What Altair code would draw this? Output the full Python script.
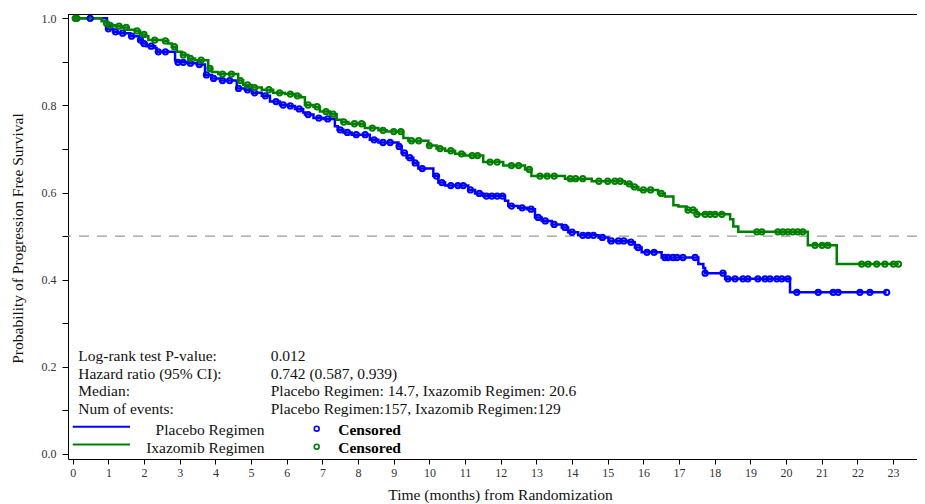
import altair as alt
import pandas as pd
import numpy as np

# ---------------- data ----------------
arms = ["Placebo Regimen", "Ixazomib Regimen"]
arm_colors = ["#0000FF", "#008000"]

placebo_t = [0, 0.96, 1.13, 1.27, 1.61, 1.86, 1.93, 2.07, 2.31, 2.35, 2.87, 2.91, 3.23, 3.48,
             3.71, 3.90, 4.13, 4.60, 4.83, 5.02, 5.30, 5.53, 5.81, 6.04, 6.23, 6.46, 6.51, 6.75,
             7.03, 7.35, 7.43, 7.59, 7.82, 8.33, 8.57, 9.13, 9.22, 9.36, 9.55, 9.69, 10.11, 10.25,
             10.44, 11.09, 11.28, 11.51, 12.12, 12.21, 12.49, 12.73, 12.96, 13.15, 13.43, 13.71,
             13.89, 14.17, 14.74, 15.02, 15.58, 15.76, 15.95, 16.51, 17.54, 17.68, 17.73, 18.29,
             20.11, 22.82]
placebo_s = [1.0, 0.976, 0.969, 0.966, 0.959, 0.950, 0.942, 0.936, 0.932, 0.923, 0.904, 0.899,
             0.897, 0.894, 0.870, 0.862, 0.857, 0.839, 0.836, 0.829, 0.822, 0.809, 0.801, 0.799,
             0.792, 0.784, 0.779, 0.771, 0.769, 0.752, 0.744, 0.738, 0.733, 0.721, 0.715, 0.706,
             0.691, 0.680, 0.668, 0.655, 0.638, 0.623, 0.616, 0.606, 0.598, 0.592, 0.581, 0.569,
             0.565, 0.562, 0.543, 0.535, 0.527, 0.520, 0.509, 0.502, 0.497, 0.489, 0.486, 0.474,
             0.463, 0.451, 0.436, 0.427, 0.415, 0.402, 0.371, 0.371]

ixazomib_t = [0, 0.81, 0.95, 1.00, 1.19, 1.37, 1.56, 1.75, 1.89, 2.03, 2.12, 2.54, 2.68, 2.78,
              2.92, 3.06, 3.24, 3.43, 3.80, 3.90, 4.08, 4.64, 4.78, 5.02, 5.30, 5.62, 5.95, 6.23,
              6.40, 6.51, 6.75, 6.93, 7.21, 7.40, 7.54, 7.73, 8.19, 8.57, 8.80, 9.27, 9.41, 9.97,
              10.20, 10.44, 10.72, 11.00, 11.51, 12.07, 12.68, 12.86, 13.80, 14.55, 15.48, 15.67,
              15.86, 16.41, 16.60, 16.84, 16.98, 17.21, 17.49, 18.43, 18.52, 18.66, 20.61, 21.42,
              23.16]
ixazomib_s = [1.0, 0.993, 0.988, 0.984, 0.982, 0.979, 0.974, 0.971, 0.963, 0.959, 0.950, 0.948,
              0.942, 0.935, 0.923, 0.916, 0.908, 0.904, 0.885, 0.877, 0.872, 0.857, 0.847, 0.841,
              0.836, 0.829, 0.826, 0.822, 0.819, 0.801, 0.797, 0.786, 0.780, 0.767, 0.762, 0.758,
              0.748, 0.743, 0.740, 0.725, 0.719, 0.708, 0.701, 0.696, 0.689, 0.685, 0.670, 0.662,
              0.653, 0.638, 0.632, 0.626, 0.620, 0.613, 0.606, 0.598, 0.591, 0.571, 0.568, 0.560,
              0.550, 0.539, 0.522, 0.510, 0.479, 0.436, 0.436]

placebo_censored = [0.49, 1.0, 1.2, 1.4, 1.65, 1.9, 2.0, 2.2, 2.4, 2.6, 2.95, 3.1, 3.3, 3.55,
                    3.75, 3.95, 4.2, 4.4, 4.65, 4.9, 5.1, 5.4, 5.7, 5.9, 6.1, 6.35, 6.6, 6.9, 7.15,
                    7.5, 7.7, 7.95, 8.2, 8.45, 8.7, 8.9, 9.15, 9.3, 9.45, 9.6, 9.8, 10.2, 10.35,
                    10.6, 10.8, 10.95, 11.15, 11.4, 11.6, 11.75, 11.9, 12.05, 12.3, 12.6, 12.85,
                    13.05, 13.25, 13.5, 13.8, 14.0, 14.3, 14.45, 14.6, 14.85, 15.1, 15.3, 15.45,
                    15.65, 15.85, 16.1, 16.3, 16.60, 16.69, 16.83, 16.94, 17.11, 17.45, 17.73,
                    18.23, 18.37, 18.57, 18.79, 18.93, 19.21, 19.41, 19.55, 19.74, 19.88, 20.05,
                    20.30, 20.90, 21.32, 21.46, 22.07, 22.35, 22.82]
ixazomib_censored = [0.07, 0.12, 0.95, 1.05, 1.3, 1.5, 1.8, 2.0, 2.3, 2.6, 2.85, 3.1, 3.3, 3.6,
                     3.85, 4.2, 4.45, 4.7, 4.9, 5.1, 5.5, 5.8, 6.1, 6.3, 6.6, 6.85, 7.1, 7.3, 7.6,
                     7.9, 8.1, 8.4, 8.7, 9.0, 9.2, 9.5, 9.7, 10.0, 10.3, 10.6, 10.9, 11.2, 11.35,
                     11.7, 11.9, 12.3, 12.5, 12.8, 13.1, 13.3, 13.5, 13.95, 14.1, 14.3, 14.75, 15.0,
                     15.2, 15.35, 15.6, 15.75, 16.0, 16.2, 16.5, 17.25, 17.39, 17.50, 17.73, 17.87,
                     18.01, 18.20, 19.18, 19.32, 19.77, 19.91, 20.05, 20.19, 20.33, 20.47, 20.81,
                     21.01, 21.17, 22.12, 22.30, 22.54, 22.77, 23.01, 23.15]

stat_labels = ["Log-rank test P-value:", "Hazard ratio (95% CI):", "Median:", "Num of events:"]
stat_values = ["0.012", "0.742 (0.587, 0.939)",
               "Placebo Regimen: 14.7, Ixazomib Regimen: 20.6",
               "Placebo Regimen:157, Ixazomib Regimen:129"]

x_ticks = list(range(0, 24))
y_ticks = [0.0, 0.1, 0.2, 0.3, 0.4, 0.5, 0.6, 0.7, 0.8, 0.9, 1.0]
median_ref = 0.5

# ---------------- tables ----------------
def curve_df(t, s, arm):
    return pd.DataFrame({"t": t, "s": s, "arm": arm})


def cens_df(t, s, c, arm):
    idx = np.searchsorted(np.array(t), np.array(c), side="right") - 1
    return pd.DataFrame({"t": c, "s": np.array(s)[idx], "arm": arm})


curves = [curve_df(placebo_t, placebo_s, arms[0]), curve_df(ixazomib_t, ixazomib_s, arms[1])]
cens = [cens_df(placebo_t, placebo_s, placebo_censored, arms[0]),
        cens_df(ixazomib_t, ixazomib_s, ixazomib_censored, arms[1])]

# ---------------- layout / style ----------------
W, H = 849, 445
FONT = "Liberation Serif"
FS = 15.5
one = alt.Data(values=[{"k": 1}])

xscale = alt.Scale(domain=[-0.132, 23.67], nice=False, zero=False)
yscale = alt.Scale(domain=[-0.0115, 1.0099], nice=False, zero=False)

x_axis = alt.Axis(values=x_ticks, title="Time (months) from Randomization", grid=False,
                  domainColor="black", tickColor="black", tickSize=5, labelFont=FONT,
                  labelFontSize=12, labelColor="#333", labelPadding=3, titleFont=FONT,
                  titleFontSize=FS, titleFontWeight="normal", titleColor="#111",
                  titleX=432, titleY=35, titleBaseline="middle", titleAlign="center")
y_axis = alt.Axis(values=y_ticks, title="Probability of Progression Free Survival", grid=False,
                  labelExpr="(round(datum.value*10) % 2 == 0) ? format(datum.value, '.1f') : ''",
                  domainColor="black", tickColor="black", tickSize=6, labelFont=FONT,
                  labelFontSize=12, labelColor="#333", labelPadding=6, titleFont=FONT,
                  titleFontSize=FS, titleFontWeight="normal", titleColor="#111",
                  titleAngle=270, titleX=-51, titleY=224, titleBaseline="middle",
                  titleAlign="center")

X = alt.X("t:Q", scale=xscale, axis=x_axis)
Y = alt.Y("s:Q", scale=yscale, axis=y_axis)

layers = []
# median reference line
layers.append(alt.Chart(one).mark_rule(color="#999999", strokeDash=[10, 8], strokeWidth=1.3)
              .encode(y=alt.datum(median_ref)))
# top frame line
layers.append(alt.Chart(one).mark_rule(color="black", strokeWidth=1)
              .encode(x=alt.value(0), x2=alt.value(W), y=alt.value(0.5)))
# KM curves
for df, col in zip(curves, arm_colors):
    layers.append(alt.Chart(df).mark_line(interpolate="step-after", color=col, strokeWidth=2.5)
                  .encode(x=X, y=Y))
# censored marks
for df, col in zip(cens, arm_colors):
    layers.append(alt.Chart(df).mark_point(shape="circle", filled=False, color=col, size=28,
                                           strokeWidth=2, opacity=1)
                  .encode(x=X, y=Y))

# statistics text
for i, (lab, val) in enumerate(zip(stat_labels, stat_values)):
    yb = 346.7 + i * 17.8
    layers.append(alt.Chart(one).mark_text(text=lab, align="left", baseline="alphabetic",
                                           font=FONT, fontSize=FS, color="#111")
                  .encode(x=alt.value(10.3), y=alt.value(yb)))
    layers.append(alt.Chart(one).mark_text(text=val, align="left", baseline="alphabetic",
                                           font=FONT, fontSize=FS, color="#111")
                  .encode(x=alt.value(202.7), y=alt.value(yb)))

# legend
for i, (arm, col) in enumerate(zip(arms, arm_colors)):
    ly = 412.7 + i * 17.8
    tb = 420.5 + i * 18.2
    layers.append(alt.Chart(one).mark_rule(color=col, strokeWidth=2)
                  .encode(x=alt.value(4.7), x2=alt.value(62), y=alt.value(ly)))
    layers.append(alt.Chart(one).mark_text(text=arm, align="right", baseline="alphabetic",
                                           font=FONT, fontSize=FS, color="#111")
                  .encode(x=alt.value(196.5), y=alt.value(tb)))
    layers.append(alt.Chart(one).mark_point(shape="circle", filled=False, color=col, size=24,
                                            strokeWidth=1.6, opacity=1)
                  .encode(x=alt.value(248.7), y=alt.value(414.7 + i * 18)))
    layers.append(alt.Chart(one).mark_text(text="Censored", align="left", baseline="alphabetic",
                                           font=FONT, fontSize=FS, fontWeight="bold",
                                           color="black")
                  .encode(x=alt.value(270.3), y=alt.value(tb)))

chart = (alt.layer(*layers)
         .properties(width=W, height=H, autosize=alt.AutoSizeParams(type="none"),
                     padding={"left": 60, "top": 6, "right": 0, "bottom": 45})
         .configure_view(stroke="transparent"))

chart.save("out.html", embed_options={"renderer": "svg", "actions": False})
